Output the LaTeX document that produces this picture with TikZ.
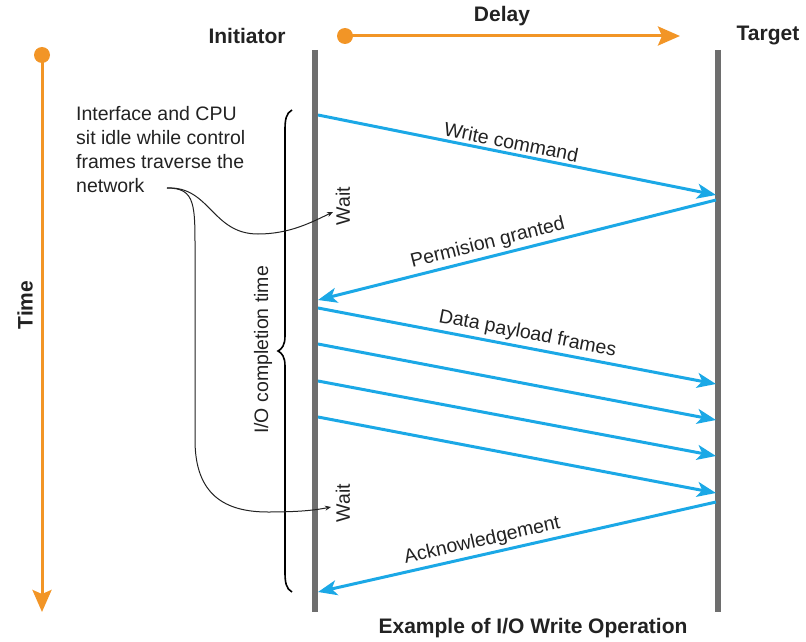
\documentclass[tikz,border=0pt]{standalone}
\usepackage{fontspec}
\setmainfont{Liberation Sans}
\usetikzlibrary{arrows.meta}
\definecolor{msgblue}{HTML}{1BA8E6}
\definecolor{axorange}{HTML}{F29526}
\definecolor{lifegray}{HTML}{6E6E6E}
\definecolor{txt}{HTML}{222222}
\begin{document}
\begin{tikzpicture}[x=1pt,y=-1pt,
  lifeline/.style={draw=lifegray,line width=6pt},
  msg/.style={draw=msgblue,line width=3pt,-{Stealth[length=19pt,width=15pt,inset=5pt]}},
  axis/.style={draw=axorange,line width=3pt,-{Stealth[length=22pt,width=19pt,inset=4pt]}},
  axdot/.style={circle,fill=axorange,inner sep=0pt,minimum size=16pt},
  head/.style={text=txt,font=\bfseries\fontsize{21}{24}\selectfont,inner sep=0pt},
  lbl/.style={text=txt,font=\fontsize{19.5}{24}\selectfont,inner sep=3pt},
  note/.style={draw=txt,line width=1pt,-{Stealth[length=6pt,width=5pt]}},
  brace/.style={draw=black,line width=1.6pt}]
\useasboundingbox (0,0) rectangle (806,642);
% headings
\node[head] (initiator) at (247,36) {Initiator};
\node[head] (target) at (768,36) {Target};
\node[head] (delay) at (502,16) {Delay};
\node[head,rotate=90] (time) at (25,305) {Time};
\node[head] (title) at (533,628) {Example of I/O Write Operation};
% axes
\node[axdot] (tdot) at (42,55) {};
\coordinate (tend) at (42,612);
\draw[axis] (tdot.center) -- (tend);
\node[axdot] (ddot) at (345,36) {};
\coordinate (dend) at (680,36);
\draw[axis] (ddot.center) -- (dend);
% lifelines
\coordinate (itop) at (315,50); \coordinate (ibot) at (315,612);
\coordinate (ttop) at (718,50); \coordinate (tbot) at (718,612);
\draw[lifeline] (itop) -- (ibot);
\draw[lifeline] (ttop) -- (tbot);
% message endpoints
\coordinate (i1) at (318,115); \coordinate (t1) at (716,195);
\coordinate (t2) at (716,200); \coordinate (i2) at (318,300);
\coordinate (i3) at (318,308); \coordinate (t3) at (716,384);
\coordinate (i4) at (318,344); \coordinate (t4) at (716,420);
\coordinate (i5) at (318,381); \coordinate (t5) at (716,456);
\coordinate (i6) at (318,417); \coordinate (t6) at (716,493);
\coordinate (t7) at (716,502); \coordinate (i7) at (318,592);
\draw[msg] (i1) -- node[lbl,sloped,above,pos=0.48] (wc) {Write command} (t1);
\draw[msg] (t2) -- node[lbl,sloped,above,pos=0.565] (pg) {Permision granted} (i2);
\draw[msg] (i3) -- node[lbl,sloped,above,pos=0.52] (dp) {Data payload frames} (t3);
\draw[msg] (i4) -- (t4);
\draw[msg] (i5) -- (t5);
\draw[msg] (i6) -- (t6);
\draw[msg] (t7) -- node[lbl,sloped,above,pos=0.58] (ack) {Acknowledgement} (i7);
% wait labels
\node[lbl,rotate=90,inner sep=0pt] (wait1) at (343,206) {Wait};
\node[lbl,rotate=90,inner sep=0pt] (wait2) at (343,503) {Wait};
% brace
\draw[brace] (292,110) .. controls (286,113) and (285,120) .. (285,130)
  -- (285,336) .. controls (285,345) and (282,349) .. (278,351)
  .. controls (282,353) and (285,357) .. (285,366)
  -- (285,572) .. controls (285,582) and (286,589) .. (292,592);
\node[lbl,rotate=90,inner sep=0pt] (iot) at (263,350) {I/O completion time};
% note
\node[lbl,align=left,anchor=north west,inner sep=0pt] (notetext) at (76,106)
  {Interface and CPU\\sit idle while control\\frames traverse the\\network};
\coordinate (c0) at (167,188);
\coordinate (w1) at (333,212);
\coordinate (w2) at (331,507);
\draw[note] (c0) .. controls (210,186) and (212,234) .. (258,234)
  .. controls (290,234) and (312,222) .. (w1);
\draw[note] (c0) .. controls (196,188) and (195,205) .. (195,255)
  -- (195,440) .. controls (195,495) and (225,512) .. (268,512)
  .. controls (300,512) and (316,510) .. (w2);
\end{tikzpicture}
\end{document}
